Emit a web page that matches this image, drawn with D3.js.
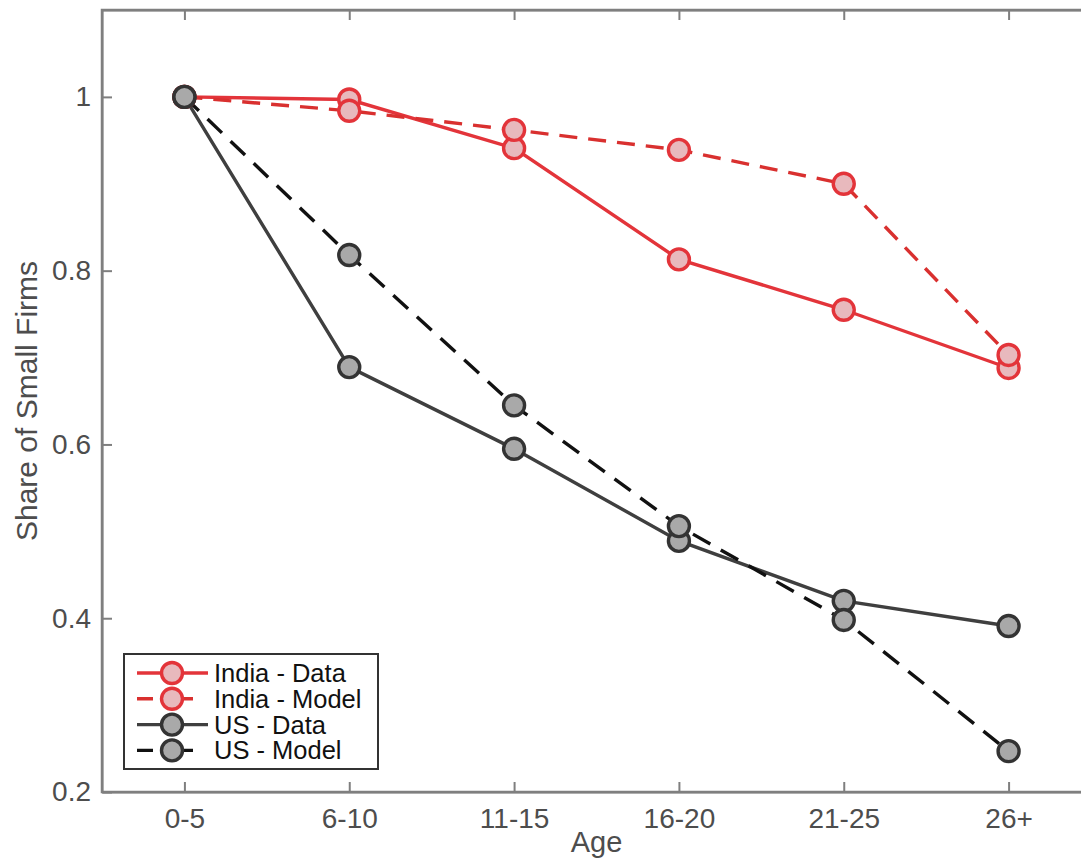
<!DOCTYPE html>
<html>
<head>
<meta charset="utf-8">
<script src="https://cdn.jsdelivr.net/npm/d3@7"></script>
<style>
  body { margin: 0; background: #fff; }
  text { font-family: "Liberation Sans", Arial, sans-serif; }
</style>
</head>
<body>
<div id="chart"></div>
<script>
const ages = ["0-5", "6-10", "11-15", "16-20", "21-25", "26+"];
const indiaData = [1.0, 0.997, 0.941, 0.813, 0.755, 0.688];
const indiaModel = [1.0, 0.984, 0.962, 0.939, 0.900, 0.703];
const usData = [1.0, 0.689, 0.595, 0.489, 0.420, 0.391];
const usModel = [1.0, 0.818, 0.645, 0.506, 0.398, 0.247];
const yTicks = [0.2, 0.4, 0.6, 0.8, 1];

const series = [
    {name: "India - Data", values: indiaData, color: "#e3343a", marker: "#e3343a", fill: "#e8b9bd", dash: null},
    {name: "India - Model", values: indiaModel, color: "#d9302f", marker: "#e3343a", fill: "#e8b9bd", dash: "18,11"},
    {name: "US - Data", values: usData, color: "#3f3f3f", marker: "#333333", fill: "#a9a9a9", dash: null},
    {name: "US - Model", values: usModel, color: "#111111", marker: "#333333", fill: "#a9a9a9", dash: "20,12"}
];

const W = 1081, H = 861;
const margin = {top: 10, left: 102};
const plotW = 989, plotH = 782;

let svg = d3.select("#chart")
    .append("svg")
    .attr("width", W)
    .attr("height", H);

let group = svg.append("g")
    .attr("transform", "translate(" + margin.left + "," + margin.top + ")");

const x = d3.scaleLinear()
    .domain([-0.5, ages.length - 0.5])
    .range([0, plotW]);

const y = d3.scaleLinear()
    .domain([0.2, 1.1])
    .range([plotH, 0]);

const axisColor = "#7f7f7f";
const labelColor = "#4d4d4d";

// bottom axis, ticks inward
const xAxis = d3.axisBottom(x)
    .tickValues(d3.range(ages.length))
    .tickFormat(i => ages[i])
    .tickSizeInner(-10)
    .tickSizeOuter(0)
    .tickPadding(16);

const yAxis = d3.axisLeft(y)
    .tickValues(yTicks)
    .tickFormat(d => d === 1 ? "1" : d3.format(".1f")(d))
    .tickSizeInner(-10)
    .tickSizeOuter(0)
    .tickPadding(11);

let xDisplay = group.append("g")
    .attr("transform", `translate(0, ${plotH})`)
    .call(xAxis);

let yDisplay = group.append("g")
    .call(yAxis);

// mirrored ticks top and right
group.append("g")
    .call(d3.axisTop(x).tickValues(d3.range(ages.length)).tickFormat("").tickSizeInner(-10).tickSizeOuter(0));
group.append("g")
    .attr("transform", `translate(${plotW}, 0)`)
    .call(d3.axisRight(y).tickValues(yTicks).tickFormat("").tickSizeInner(-10).tickSizeOuter(0));

group.selectAll(".domain, .tick line")
    .attr("stroke", axisColor)
    .attr("stroke-width", 2);

group.selectAll(".tick text")
    .attr("fill", labelColor)
    .attr("font-size", 28);

// frame
group.append("rect")
    .attr("x", 0)
    .attr("y", 0)
    .attr("width", plotW)
    .attr("height", plotH)
    .attr("fill", "none")
    .attr("stroke", axisColor)
    .attr("stroke-width", 2.5);

// axis labels
svg.append("text")
    .attr("x", margin.left + x(2.5))
    .attr("y", 852)
    .attr("text-anchor", "middle")
    .attr("font-size", 29)
    .attr("fill", labelColor)
    .text("Age");

svg.append("text")
    .attr("transform", `translate(37, ${margin.top + plotH / 2}) rotate(-90)`)
    .attr("text-anchor", "middle")
    .attr("font-size", 30)
    .attr("fill", labelColor)
    .text("Share of Small Firms");

const line = d3.line()
    .x((d, i) => x(i))
    .y(d => y(d));

series.forEach(s => {
    group.append("path")
        .datum(s.values)
        .attr("d", line)
        .attr("fill", "none")
        .attr("stroke", s.color)
        .attr("stroke-width", 3.4)
        .attr("stroke-dasharray", s.dash);
});

series.forEach(s => {
    group.selectAll(null)
        .data(s.values)
        .enter()
        .append("circle")
        .attr("cx", (d, i) => x(i))
        .attr("cy", d => y(d))
        .attr("r", 10.5)
        .attr("fill", s.fill)
        .attr("stroke", s.marker)
        .attr("stroke-width", 3.4);
});

// legend
const legend = svg.append("g")
    .attr("transform", "translate(124, 654)");

legend.append("rect")
    .attr("width", 254)
    .attr("height", 115)
    .attr("fill", "#fff")
    .attr("stroke", "#333")
    .attr("stroke-width", 2);

series.forEach((s, i) => {
    const ly = 19 + i * 25.8;
    const isDash = s.dash !== null;
    legend.append("line")
        .attr("x1", 13)
        .attr("x2", isDash ? 69 : 84)
        .attr("y1", ly)
        .attr("y2", ly)
        .attr("stroke", s.color)
        .attr("stroke-width", 3.4)
        .attr("stroke-dasharray", isDash ? "16,8,40" : null);
    legend.append("circle")
        .attr("cx", 48)
        .attr("cy", ly)
        .attr("r", 10.5)
        .attr("fill", s.fill)
        .attr("stroke", s.marker)
        .attr("stroke-width", 3.4);
    legend.append("text")
        .attr("x", 90)
        .attr("y", ly + 9)
        .attr("font-size", 25.5)
        .attr("fill", "#111")
        .text(s.name);
});
</script>
</body>
</html>
